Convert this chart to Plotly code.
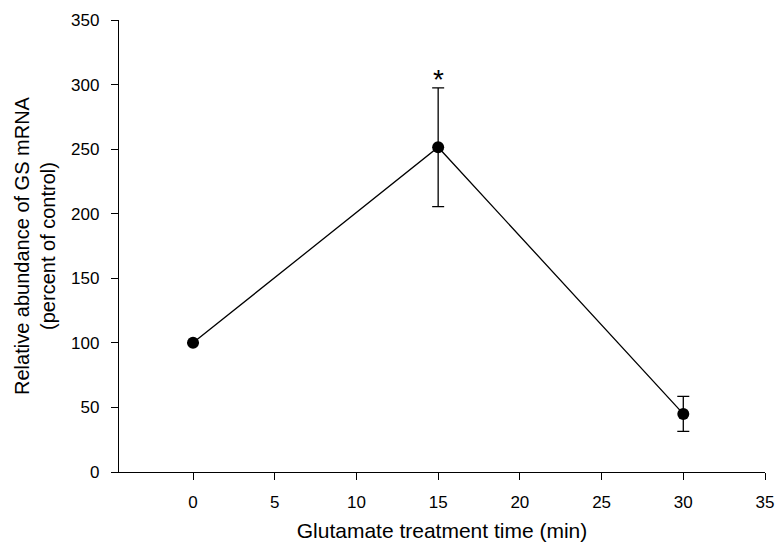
import plotly.graph_objects as go

time_min = [0, 15, 30]
abundance = [100, 251.5, 45]
error = [0, 46, 13.5]
sig_x = [15]
sig_y = [304]
sig_text = ["*"]

x_ticks = [0, 5, 10, 15, 20, 25, 30, 35]
y_ticks = [0, 50, 100, 150, 200, 250, 300, 350]

FONT = "Liberation Sans, Arial, sans-serif"

fig = go.Figure()
fig.add_trace(go.Scatter(
    x=time_min, y=abundance,
    mode="lines+markers",
    line=dict(color="black", width=1.3),
    marker=dict(color="black", size=12),
    error_y=dict(type="data", array=error, visible=True,
                 color="black", thickness=1.3, width=6),
    showlegend=False,
))

for sx, sy, st in zip(sig_x, sig_y, sig_text):
    fig.add_annotation(x=sx, y=sy, text=st, showarrow=False,
                       font=dict(family=FONT, size=28, color="black"),
                       xanchor="center", yanchor="middle")

fig.update_layout(
    width=776, height=550,
    margin=dict(l=119, r=11, t=20, b=78),
    paper_bgcolor="white", plot_bgcolor="white",
    font=dict(family=FONT, color="black"),
)
fig.update_xaxes(
    range=[-4.53, 35], tickvals=x_ticks, automargin=False,
    showline=True, linecolor="black", linewidth=1.3,
    ticks="outside", ticklen=7, tickwidth=1.3, tickcolor="black",
    showgrid=False, zeroline=False,
    tickfont=dict(size=17), ticklabelstandoff=7,
    title=dict(text="Glutamate treatment time (min)", font=dict(size=21), standoff=12),
)
fig.update_yaxes(
    range=[0, 350], tickvals=y_ticks, automargin=False,
    showline=True, linecolor="black", linewidth=1.3,
    ticks="outside", ticklen=7, tickwidth=1.3, tickcolor="black",
    showgrid=False, zeroline=False,
    tickfont=dict(size=17), ticklabelstandoff=8,
    title=dict(text="Relative abundance of GS mRNA<br>(percent of control)",
               font=dict(size=20), standoff=10),
)

fig.write_html("out.html")
